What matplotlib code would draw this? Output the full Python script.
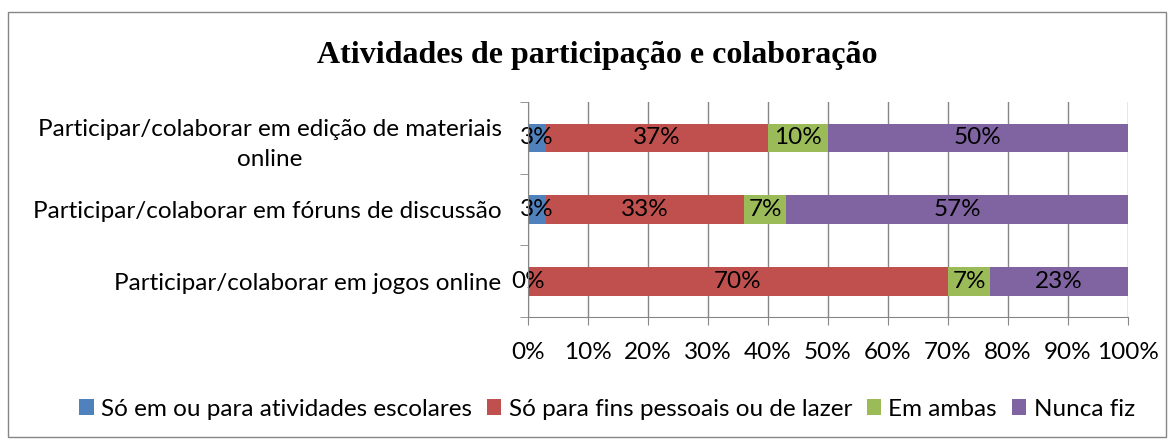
import matplotlib
matplotlib.use("Agg")
import matplotlib.pyplot as plt
from matplotlib.patches import Rectangle
import numpy as np

categories = [
    "Participar/colaborar em jogos online",
    "Participar/colaborar em fóruns de discussão",
    "Participar/colaborar em edição de materiais\nonline",
]
series_names = [
    "Só em ou para atividades escolares",
    "Só para fins pessoais ou de lazer",
    "Em ambas",
    "Nunca fiz",
]
escolares = [0, 3, 3]
pessoais = [70, 33, 37]
ambas = [7, 7, 10]
nunca = [23, 57, 50]
colors = ["#4F81BD", "#C0504D", "#9BBB59", "#8064A2"]
x_ticks = list(range(0, 101, 10))
title = "Atividades de participação e colaboração"

font = "Lato"
fs = 17.5

fig = plt.figure(figsize=(11.75, 4.41), dpi=100)
fig.patches.append(Rectangle((8 / 1175, 4 / 441), 1158 / 1175, 425 / 441,
                             transform=fig.transFigure, fill=False,
                             edgecolor="#868686", linewidth=1.0))
ax = fig.add_axes([528 / 1175, 1 - 317 / 441, 600 / 1175, 215 / 441])

y = np.arange(len(categories))
left = np.zeros(len(categories))
for name, vals, c in zip(series_names, [escolares, pessoais, ambas, nunca], colors):
    ax.barh(y, vals, left=left, height=0.4, color=c, label=name, zorder=3)
    for yi, (l, v) in enumerate(zip(left, vals)):
        ax.text(l + v / 2, yi, f"{v}%", ha="center", va="center",
                fontsize=fs, family=font, zorder=4)
    left = left + np.array(vals)

ax.set_xlim(0, 100)
ax.set_ylim(-0.5, len(categories) - 0.5)
ax.set_xticks(x_ticks)
ax.set_xticklabels([f"{t}%" for t in x_ticks], fontsize=fs, family=font)
ax.set_yticks(y)
ax.set_yticklabels(categories, fontsize=fs, family=font, ha="right")
for lab in ax.get_yticklabels():
    lab.set_multialignment("center")
    lab.set_linespacing(1.55)
ax.tick_params(axis="y", which="major", length=0, pad=19)
ax.set_yticks(np.arange(-0.5, len(categories), 1), minor=True)
ax.tick_params(axis="y", which="minor", length=6, color="#868686", direction="out")
ax.tick_params(axis="x", length=6, color="#868686", direction="out", pad=12)
ax.grid(axis="x", color="#868686", linewidth=1.0, zorder=0)
for s in ["top", "right"]:
    ax.spines[s].set_visible(False)
for s in ["left", "bottom"]:
    ax.spines[s].set_color("#868686")
    ax.spines[s].set_zorder(5)

fig.text(597 / 1175, 1 - 55 / 441, title, ha="center", va="center",
         fontsize=23, fontweight="bold", family="Liberation Serif")

handles, labels = ax.get_legend_handles_labels()
fig.legend(handles, labels, loc="center", bbox_to_anchor=(607 / 1175, 1 - 409 / 441),
           ncol=4, frameon=False, prop={"family": font, "size": fs},
           handlelength=0.6, handleheight=0.6, handletextpad=0.3, columnspacing=0.6)

fig.savefig("out.png", dpi=100)
